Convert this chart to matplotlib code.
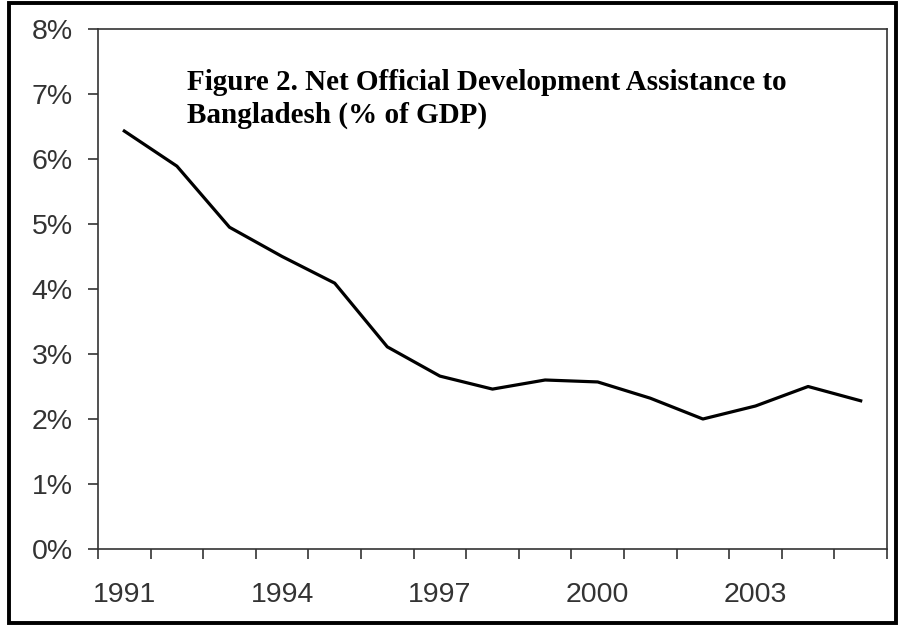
import matplotlib
matplotlib.use("Agg")
import matplotlib.pyplot as plt
from matplotlib.patches import Rectangle
from matplotlib.ticker import FixedLocator, NullFormatter

# data
years = list(range(1991, 2006))
oda_pct = [6.43, 5.89, 4.95, 4.50, 4.09, 3.11, 2.66, 2.46, 2.60, 2.57, 2.32, 2.00, 2.20, 2.50, 2.28]
label_years = [1991, 1994, 1997, 2000, 2003]
y_ticks = [0, 1, 2, 3, 4, 5, 6, 7, 8]

fig = plt.figure(figsize=(9.04, 6.26), dpi=100)
ax = fig.add_axes([0.1084, 0.123, 0.8728, 0.8307])

idx = list(range(len(years)))
ax.plot(idx, oda_pct, color="black", linewidth=2.3, solid_joinstyle="round")

ax.set_xlim(-0.5, len(years) - 0.5)
ax.set_ylim(0, 8)

# tick marks at category boundaries, labels at category centres
ax.xaxis.set_major_locator(FixedLocator([i - 0.5 for i in range(len(years) + 1)]))
ax.xaxis.set_major_formatter(NullFormatter())
ax.xaxis.set_minor_locator(FixedLocator([years.index(y) for y in label_years]))
ax.set_xticklabels([str(y) for y in label_years], minor=True)
ax.tick_params(axis="x", which="major", direction="out", length=7.5, width=1.2, color="#333333")
ax.tick_params(axis="x", which="minor", length=0, pad=23.5, labelsize=20.5, labelcolor="#333333")

ax.set_yticks(y_ticks)
ax.set_yticklabels([f"{v}%" for v in y_ticks])
ax.tick_params(axis="y", direction="out", length=7, width=1.2, color="#333333",
               pad=11, labelsize=20.5, labelcolor="#333333")

for s in ax.spines.values():
    s.set_color("#333333")
    s.set_linewidth(1.2)

for lab in ax.get_xticklabels(minor=True) + ax.get_yticklabels():
    lab.set_family(["Liberation Sans", "DejaVu Sans"])

fig.text(0.207, 0.889, "Figure 2. Net Official Development Assistance to\nBangladesh (% of GDP)",
         ha="left", va="top", fontsize=21, fontweight="bold",
         family=["Liberation Serif", "DejaVu Serif"], linespacing=1.25)

# frame around whole picture
fig.patches.append(Rectangle((0.0095, 0.004), 0.982, 0.991, transform=fig.transFigure,
                             fill=False, edgecolor="black", linewidth=2.8))

fig.savefig("out.png", dpi=100)
